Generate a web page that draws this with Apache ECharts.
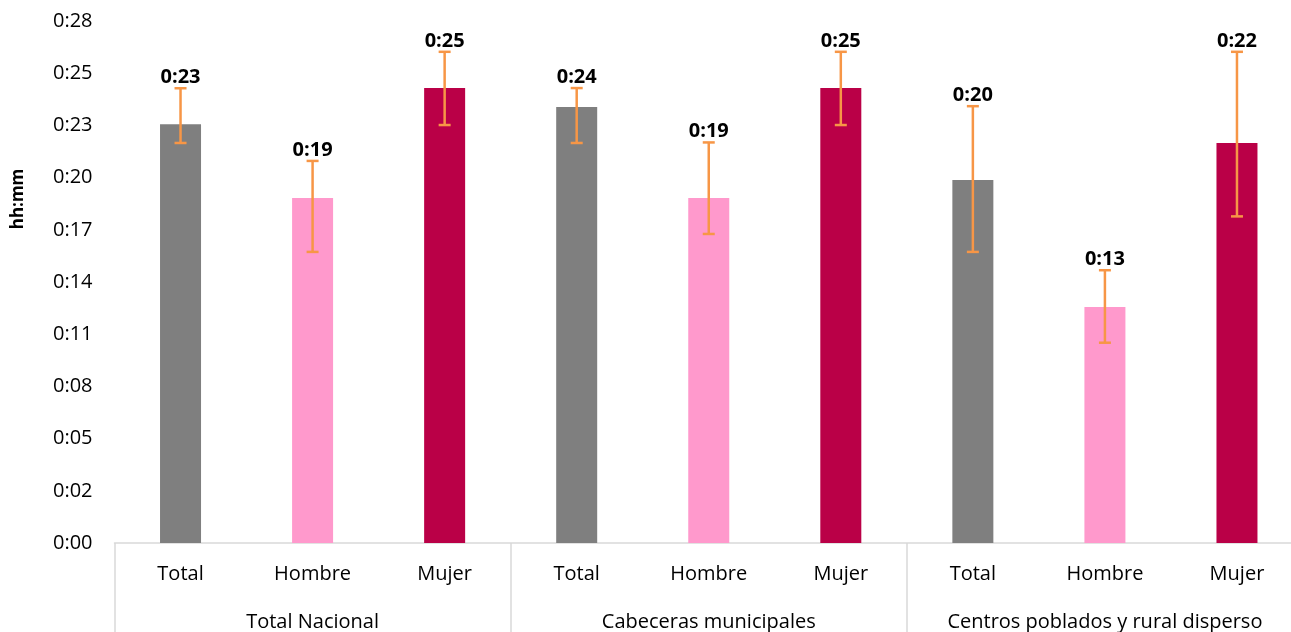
<!DOCTYPE html>
<html>
<head>
<meta charset="utf-8">
<script src="https://cdn.jsdelivr.net/npm/echarts@6/dist/echarts.min.js"></script>
<style>
html,body{margin:0;padding:0;background:#fff;overflow:hidden;width:1291px;height:632px;}
#c{width:1303px;height:632px;}
</style>
</head>
<body>
<div id="c"></div>
<script>
// Data (minutes)
const categories = ['Total','Hombre','Mujer','Total','Hombre','Mujer','Total','Hombre','Mujer'];
const groups = ['Total Nacional','Cabeceras municipales','Centros poblados y rural disperso'];
const values = [23.1, 19.03, 25.1, 24.05, 19.03, 25.1, 20.03, 13.02, 22.07];
const errLow = [22.07, 16.06, 23.06, 22.07, 17.05, 23.06, 16.06, 11.05, 18.02];
const errHigh = [25.09, 21.08, 27.1, 25.1, 22.1, 27.1, 24.1, 15.05, 27.1];
const valueLabels = ['0:23','0:19','0:25','0:24','0:19','0:25','0:20','0:13','0:22'];
const yTickLabels = ['0:00','0:02','0:05','0:08','0:11','0:14','0:17','0:20','0:23','0:25','0:28'];
const barColors = ['#7F7F7F','#FF99CC','#BA0047','#7F7F7F','#FF99CC','#BA0047','#7F7F7F','#FF99CC','#BA0047'];

const FONT = '"Open Sans", "Noto Sans", sans-serif';
const chart = echarts.init(document.getElementById('c'));
chart.setOption({
  animation: false,
  grid: {left: 114.5, right: 0, top: 21, bottom: 89, containLabel: false},
  xAxis: [
    {
      type: 'category', data: categories, position: 'bottom',
      axisLine: {show: true, lineStyle: {color: '#D9D9D9', width: 1.5}},
      axisTick: {show: false},
      axisLabel: {interval: 0, margin: 21, color: '#000', fontSize: 20, fontFamily: FONT}
    },
    {
      type: 'category', data: groups, position: 'bottom',
      axisLine: {show: false},
      axisTick: {show: true, interval: 0, length: 95, lineStyle: {color: '#D9D9D9', width: 1.5}},
      axisLabel: {interval: 0, margin: 69, color: '#000', fontSize: 20, fontFamily: FONT}
    }
  ],
  yAxis: {
    type: 'value', min: 0, max: 28.8, interval: 2.88,
    axisLine: {show: false}, axisTick: {show: false}, splitLine: {show: false},
    axisLabel: {
      margin: 22, color: '#000', fontSize: 20, fontFamily: FONT,
      formatter: v => yTickLabels[Math.round(v / 2.88)]
    }
  },
  graphic: [{
    type: 'text', x: 18, y: 199, rotation: Math.PI / 2,
    style: {text: 'hh:mm', font: 'bold 17px ' + FONT, fill: '#000', textAlign: 'center', textVerticalAlign: 'middle'}
  }],
  series: [
    {
      type: 'bar', xAxisIndex: 0, barWidth: 41, z: 2,
      data: values.map((v, i) => ({value: v, itemStyle: {color: barColors[i]}}))
    },
    {
      type: 'custom', xAxisIndex: 0, z: 5,
      data: categories.map((c, i) => [i, errLow[i], errHigh[i], valueLabels[i]]),
      renderItem: function (params, api) {
        const x = api.value(0);
        const lo = api.coord([x, api.value(1)]);
        const hi = api.coord([x, api.value(2)]);
        const cw = 6;
        const st = {stroke: '#F79646', lineWidth: 2.5};
        return {
          type: 'group',
          children: [
            {type: 'line', shape: {x1: hi[0], y1: hi[1], x2: lo[0], y2: lo[1]}, style: st},
            {type: 'line', shape: {x1: hi[0] - cw, y1: hi[1], x2: hi[0] + cw, y2: hi[1]}, style: st},
            {type: 'line', shape: {x1: lo[0] - cw, y1: lo[1], x2: lo[0] + cw, y2: lo[1]}, style: st},
            {type: 'text', style: {text: valueLabels[params.dataIndex], x: hi[0], y: hi[1] - 1,
              textAlign: 'center', textVerticalAlign: 'bottom', font: 'bold 20px ' + FONT, fill: '#000'}}
          ]
        };
      }
    }
  ]
});
</script>
</body>
</html>
